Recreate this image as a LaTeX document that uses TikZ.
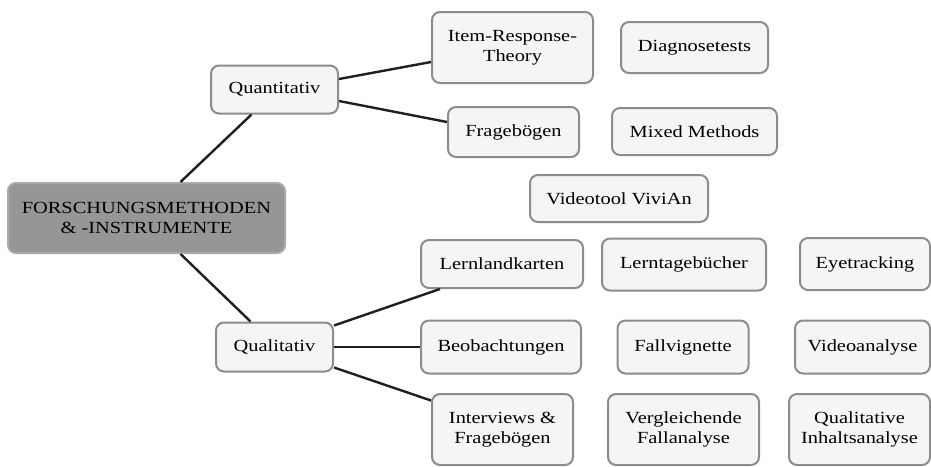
\documentclass[tikz,border=0pt]{standalone}
\usepackage{fontspec}
\setmainfont[FakeStretch=1.2]{Liberation Serif}
\begin{document}
\begin{tikzpicture}[x=1pt,y=-1pt,
  box/.style={draw=boxline, fill=boxfill, line width=2pt, rounded corners=8pt, align=center, inner sep=0pt, font=\fontsize{17}{20}\selectfont, text=black},
  mainbox/.style={box, fill=mainfill, draw=mainline},
  link/.style={draw=linkc, line width=2.4pt}]
\definecolor{boxline}{RGB}{140,140,140}
\definecolor{boxfill}{RGB}{245,245,245}
\definecolor{mainfill}{RGB}{150,150,150}
\definecolor{mainline}{RGB}{170,170,170}
\definecolor{linkc}{RGB}{34,30,30}
\useasboundingbox (0,0) rectangle (931,466);
\node[mainbox, minimum width=277pt, minimum height=70pt] (main) at (146.5,218) {FORSCHUNGSMETHODEN\\\& -INSTRUMENTE};
\node[box, minimum width=127pt, minimum height=48pt] (quant) at (274.5,89.5) {Quantitativ};
\node[box, minimum width=117pt, minimum height=49pt] (qual) at (274.5,347) {Qualitativ};
\node[box, minimum width=161pt, minimum height=71pt] (irt) at (512.5,47.5) {Item-Response-\\Theory};
\node[box, minimum width=131pt, minimum height=50pt] (frage) at (513.5,132) {Fragebögen};
\node[box, minimum width=147pt, minimum height=51pt] (diag) at (694.5,47.5) {Diagnosetests};
\node[box, minimum width=165pt, minimum height=47pt] (mixed) at (694.5,131.5) {Mixed Methods};
\node[box, minimum width=178pt, minimum height=47pt] (vivian) at (619,198.5) {Videotool ViviAn};
\node[box, minimum width=162pt, minimum height=48pt] (lern) at (502,264) {Lernlandkarten};
\node[box, minimum width=164pt, minimum height=52pt] (tage) at (684,264.5) {Lerntagebücher};
\node[box, minimum width=130pt, minimum height=52pt] (eye) at (865,264) {Eyetracking};
\node[box, minimum width=160pt, minimum height=53pt] (beob) at (501,347) {Beobachtungen};
\node[box, minimum width=131pt, minimum height=53pt] (fall) at (683,347) {Fallvignette};
\node[box, minimum width=135pt, minimum height=53pt] (video) at (862.5,347) {Videoanalyse};
\node[box, minimum width=141pt, minimum height=71pt] (inter) at (502.5,429.5) {Interviews \&\\Fragebögen};
\node[box, minimum width=151pt, minimum height=71pt] (vergl) at (683.5,429.5) {Vergleichende\\Fallanalyse};
\node[box, minimum width=141pt, minimum height=71pt] (inhalt) at (859.5,429.5) {Qualitative\\Inhaltsanalyse};
\draw[link] ([xshift=34pt]main.north) -- ([xshift=-23pt]quant.south);
\draw[link] ([xshift=34pt]main.south) -- ([xshift=-24pt]qual.north);
\draw[link] ([yshift=10.5pt]quant.east) -- ([yshift=-14.5pt]irt.west);
\draw[link] ([yshift=-11.5pt]quant.east) -- ([yshift=10pt]frage.west);
\draw[link] ([yshift=21.5pt]qual.east) -- ([xshift=-62pt]lern.south);
\draw[link] (qual.east) -- (beob.west);
\draw[link] ([yshift=-20.5pt]qual.east) -- ([yshift=29pt]inter.west);
\end{tikzpicture}
\end{document}
